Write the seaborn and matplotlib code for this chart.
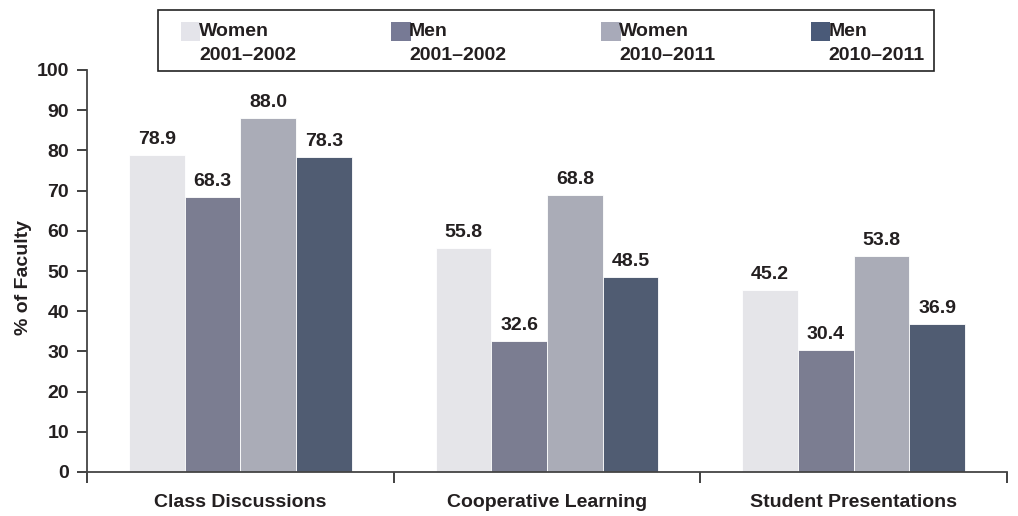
import matplotlib
matplotlib.use("Agg")
import matplotlib.pyplot as plt
from matplotlib.patches import Rectangle
from matplotlib.legend_handler import HandlerPatch
import seaborn as sns
import pandas as pd

categories = ["Class Discussions", "Cooperative Learning", "Student Presentations"]
series = ["Women\n2001\u20132002", "Men\n2001\u20132002", "Women\n2010\u20132011", "Men\n2010\u20132011"]
women_2001 = [78.9, 55.8, 45.2]
men_2001 = [68.3, 32.6, 30.4]
women_2010 = [88.0, 68.8, 53.8]
men_2010 = [78.3, 48.5, 36.9]
colors = ["#E4E4EA", "#777A95", "#A8AAB9", "#4A5A78"]
y_ticks = [0, 10, 20, 30, 40, 50, 60, 70, 80, 90, 100]

sns.set_theme(style="white")
plt.rcParams["font.family"] = ["Liberation Sans", "DejaVu Sans"]
plt.rcParams["font.weight"] = "bold"
text_color = "#231F20"

rows = []
for s, vals in zip(series, [women_2001, men_2001, women_2010, men_2010]):
    for c, v in zip(categories, vals):
        rows.append({"Category": c, "Series": s, "Value": v})
df = pd.DataFrame(rows)

W, H = 1018, 516
fig = plt.figure(figsize=(W / 100, H / 100), dpi=100)
ax = fig.add_axes([87 / W, 44 / H, 920 / W, 402 / H])

sns.barplot(data=df, x="Category", y="Value", hue="Series", order=categories,
            hue_order=series, palette=colors, width=0.727, gap=0,
            edgecolor="white", linewidth=0.6, legend=False, ax=ax)

for container in ax.containers:
    ax.bar_label(container, fmt="%.1f", padding=5, fontsize=14,
                 fontweight="bold", color=text_color)

ax.set_xlim(-0.5, 2.5)
ax.set_ylim(0, 100)
ax.set_yticks(y_ticks)
ax.set_yticklabels([str(t) for t in y_ticks], fontsize=14, fontweight="bold", color=text_color)
ax.set_xticks([-0.5, 0.5, 1.5, 2.5])
ax.set_xticklabels([])
ax.set_xticks([0, 1, 2], minor=True)
ax.set_xticklabels(categories, minor=True, fontsize=14, fontweight="bold", color=text_color)
ax.tick_params(axis="x", which="major", direction="out", length=8, width=1.3,
               color="#333333", bottom=True)
ax.tick_params(axis="x", which="minor", length=0, pad=16)
ax.tick_params(axis="y", direction="out", length=7, width=1.3, color="#333333",
               left=True, pad=6)
ax.set_xlabel("")
ax.set_ylabel("% of Faculty", fontsize=14, fontweight="bold", color=text_color)
ax.yaxis.set_label_coords(-0.06, 0.485)

for side in ["top", "right"]:
    ax.spines[side].set_visible(False)
for side in ["left", "bottom"]:
    ax.spines[side].set_color("#444444")
    ax.spines[side].set_linewidth(1.3)


class TopSquareHandler(HandlerPatch):
    """Square legend key aligned with the first line of a two-line label."""
    def create_artists(self, legend, orig_handle, xdescent, ydescent, width,
                       height, fontsize, trans):
        size = 14
        p = Rectangle((-xdescent, -ydescent + height - size + 9), size, size,
                      facecolor=orig_handle.get_facecolor(), edgecolor="none",
                      transform=trans)
        return [p]


handles = [Rectangle((0, 0), 1, 1, facecolor=c) for c in colors]
leg = fig.legend(handles, series, loc="upper left", ncol=4,
                 bbox_to_anchor=(181 / W, 1 - 23 / H),
                 frameon=False, fontsize=14,
                 handler_map={Rectangle: TopSquareHandler()},
                 handlelength=0.72, handleheight=1.0, handletextpad=0.2,
                 columnspacing=4.9, borderpad=0, borderaxespad=0,
                 labelspacing=0.2)
for t in leg.get_texts():
    t.set_color(text_color)
    t.set_fontweight("bold")
    t.set_linespacing(1.5)

# legend frame
fig.add_artist(Rectangle((158 / W, 1 - 71 / H), (934 - 158) / W, 61 / H,
                         transform=fig.transFigure, fill=False,
                         edgecolor="#222222", linewidth=1.2))

fig.savefig("out.png", dpi=100, facecolor="white")
